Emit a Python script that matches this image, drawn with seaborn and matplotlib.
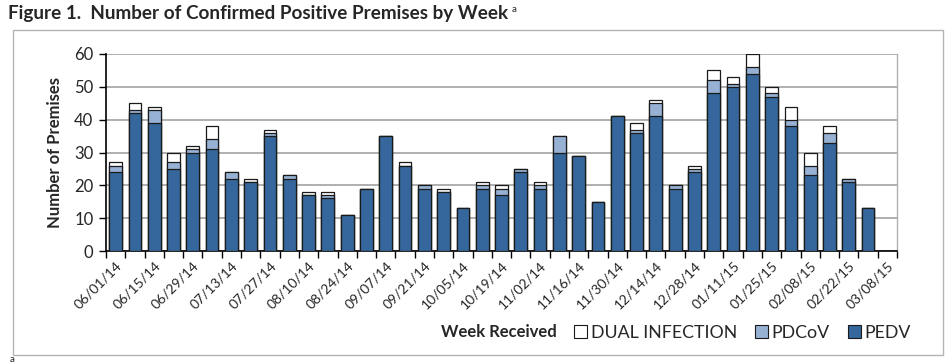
import matplotlib
matplotlib.use("Agg")
import matplotlib.pyplot as plt
from matplotlib.patches import Patch, Rectangle
from matplotlib.ticker import FixedLocator
import numpy as np
import pandas as pd
import seaborn as sns

weeks = [d.strftime("%m/%d/%y") for d in pd.date_range("2014-06-01", "2015-03-08", freq="7D")]

pedv = [24, 42, 39, 25, 30, 31, 22, 21, 35, 22, 17, 16, 11, 19, 35, 26, 19, 18, 13, 19,
        17, 24, 19, 30, 29, 15, 41, 36, 41, 19, 24, 48, 50, 54, 47, 38, 23, 33, 21, 13, 0]
pdcov = [2, 1, 4, 2, 1, 3, 2, 0, 1, 1, 0, 1, 0, 0, 0, 0, 1, 0, 0, 1,
         2, 1, 1, 5, 0, 0, 0, 1, 4, 1, 1, 4, 1, 2, 1, 2, 3, 3, 1, 0, 0]
dual = [1, 2, 1, 3, 1, 4, 0, 1, 1, 0, 1, 1, 0, 0, 0, 1, 0, 1, 0, 1,
        1, 0, 1, 0, 0, 0, 0, 2, 1, 0, 1, 3, 2, 4, 2, 4, 4, 2, 0, 0, 0]

c_pedv = "#35679c"
c_pdcov = "#96b1d3"
c_dual = "#ffffff"

df = pd.DataFrame({"week": weeks, "PEDV": pedv, "PDCoV": pdcov, "DUAL": dual})
df["lvl2"] = df["PEDV"] + df["PDCoV"]
df["lvl3"] = df["lvl2"] + df["DUAL"]

sns.set_theme(style="white")
plt.rcParams["font.family"] = ["Lato", "DejaVu Sans"]

fig = plt.figure(figsize=(9.52, 3.63), dpi=100)
ax = fig.add_axes([106 / 952, 1 - 251 / 363, (897 - 106) / 952, (251 - 54) / 363])

common = dict(data=df, x="week", order=weeks, width=0.66, edgecolor="#1a1a1a",
              linewidth=0.9, ax=ax, zorder=3)
sns.barplot(y="lvl3", color=c_dual, saturation=1, **common)
sns.barplot(y="lvl2", color=c_pdcov, saturation=1, **common)
sns.barplot(y="PEDV", color=c_pedv, saturation=1, **common)

ax.set_xlim(-0.5, len(weeks) - 0.5)
ax.set_ylim(0, 60)
ax.set_yticks(range(0, 61, 10))
ax.yaxis.grid(True, color="#9a9a9a", linewidth=1.1, zorder=0)
ax.set_axisbelow(True)

major = list(range(0, len(weeks), 2))
ax.set_xticks(major)
ax.set_xticklabels([weeks[i] for i in major], rotation=45, ha="right",
                   rotation_mode="anchor", fontsize=10)
ax.xaxis.set_minor_locator(FixedLocator(np.arange(-0.5, len(weeks), 1.0)))
ax.tick_params(axis="x", which="major", length=0, pad=6)
ax.tick_params(axis="x", which="minor", length=5, width=1, color="black", bottom=True)
ax.tick_params(axis="y", length=5, width=1, color="black", left=True, labelsize=12, pad=4)

for s in ["left", "bottom"]:
    ax.spines[s].set_color("black")
    ax.spines[s].set_linewidth(1.2)
ax.spines["top"].set_visible(False)
ax.spines["right"].set_color("#b0b0b0")
ax.spines["right"].set_linewidth(1)

ax.set_xlabel("")
ax.set_ylabel("Number of Premises", fontsize=12, fontweight="bold", labelpad=8)

fig.text(499 / 952, 1 - 332 / 363, "Week Received", fontsize=12, fontweight="bold",
         ha="center", va="center")

handles = [Patch(facecolor=c_dual, edgecolor="#1a1a1a", linewidth=0.8, label="DUAL INFECTION"),
           Patch(facecolor=c_pdcov, edgecolor="#1a1a1a", linewidth=0.8, label="PDCoV"),
           Patch(facecolor=c_pedv, edgecolor="#1a1a1a", linewidth=0.8, label="PEDV")]
fig.legend(handles=handles, loc="center left", bbox_to_anchor=(574 / 952, 1 - 333 / 363),
           ncol=3, frameon=False, fontsize=12.8, handlelength=0.75, handleheight=0.75,
           handletextpad=0.2, columnspacing=1.0, borderaxespad=0, borderpad=0)

title = fig.text(8 / 952, 1 - 14 / 363, "Figure 1.  Number of Confirmed Positive Premises by Week",
                 fontsize=13.6, fontweight="bold", ha="left", va="center")
fig.canvas.draw()
bb = title.get_window_extent()
fig.text((bb.x1 + 4) / 952, 1 - 9 / 363, "a", fontsize=7, ha="left", va="center")
fig.text(10 / 952, 1 - 359 / 363, "a", fontsize=7, ha="left", va="center")

fig.add_artist(Rectangle((13 / 952, 1 - 355 / 363), (943 - 13) / 952, (355 - 30) / 363,
                         transform=fig.transFigure, fill=False, edgecolor="#b4b4b4", linewidth=1))

fig.savefig("out.png", dpi=100)
